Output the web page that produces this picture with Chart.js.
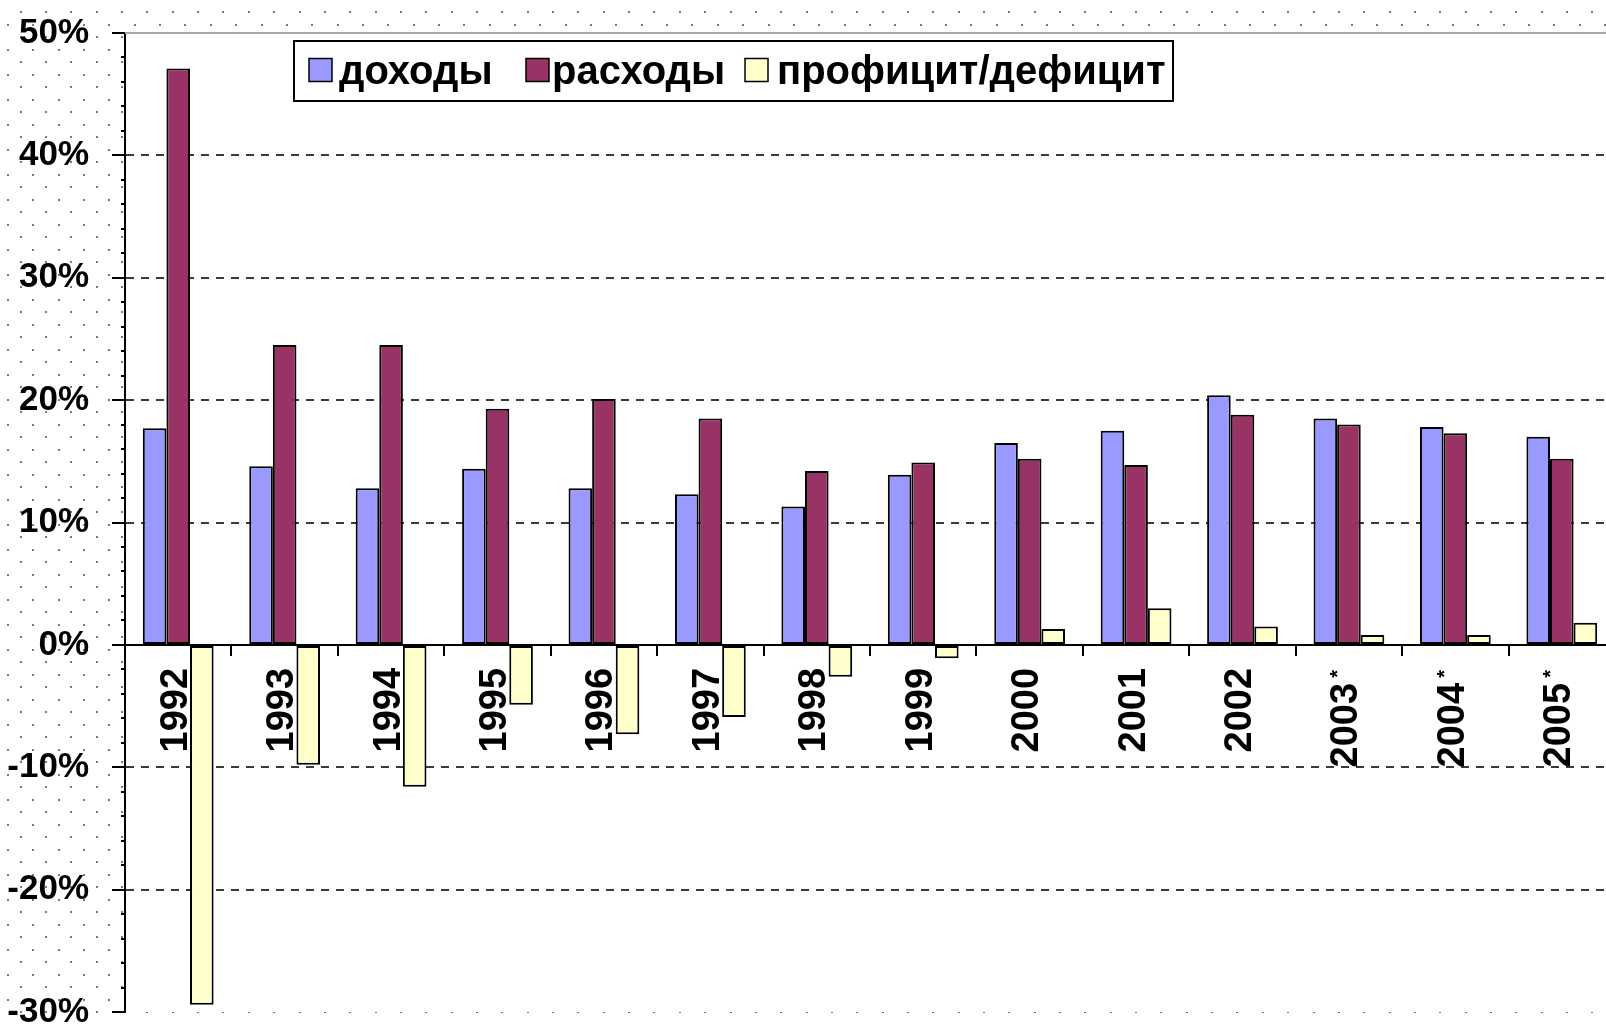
<!DOCTYPE html>
<html><head><meta charset="utf-8">
<script src="https://cdn.jsdelivr.net/npm/chart.js@4/dist/chart.umd.min.js"></script>
<style>
html,body{margin:0;padding:0;overflow:hidden;background:#fff;}
#wrap{width:1630px;height:1040px;position:relative;}
</style></head><body>
<div id="wrap"><canvas id="c"></canvas></div>
<script>
// ---- data ----
const categories = ['1992','1993','1994','1995','1996','1997','1998','1999','2000','2001','2002','2003*','2004*','2005*'];
const revenue  = [17.7, 14.6, 12.8, 14.4, 12.8, 12.3, 11.3, 13.9, 16.5, 17.5, 20.4, 18.5, 17.8, 17.0];
const expenses = [47.1, 24.5, 24.5, 19.3, 20.1, 18.5, 14.2, 14.9, 15.2, 14.7, 18.8, 18.0, 17.3, 15.2];
const balance  = [-29.4, -9.8, -11.6, -4.9, -7.3, -5.9, -2.6, -1.1, 1.3, 3.0, 1.5, 0.8, 0.8, 1.8];
const seriesNames = ['доходы', 'расходы', 'профицит/дефицит'];
const yTickValues = [-30, -20, -10, 0, 10, 20, 30, 40, 50];

const colors = ['#9999FF', '#993366', '#FFFFCC'];
const FONT = '"Liberation Sans", Arial, sans-serif';

const bgPlugin = {
  id: 'bg',
  beforeDraw(chart) {
    const {ctx, width, height, chartArea: a} = chart;
    ctx.save();
    ctx.fillStyle = '#fff';
    ctx.fillRect(0, 0, width, height);
    ctx.fillStyle = '#7a7a7a';
    let row = 0;
    for (let y = 12.3; y < height; y += 12.5, row++) {
      const off = (row % 2 === 0) ? 20.7 : 8.0;
      for (let x = off; x < width; x += 25.35) {
        ctx.fillRect(Math.round(x) - 1, Math.round(y) - 1, 2, 2);
      }
    }
    ctx.fillStyle = '#fff';
    ctx.fillRect(a.left, a.top, a.right - a.left, a.bottom - a.top);
    ctx.restore();
  }
};

const overlayPlugin = {
  id: 'overlay',
  afterDraw(chart) {
    const {ctx, chartArea: a} = chart;
    const xs = chart.scales.x, ys = chart.scales.y;
    ctx.save();
    // top border line (gray)
    ctx.strokeStyle = '#a8a8a8';
    ctx.lineWidth = 2;
    ctx.beginPath();
    ctx.moveTo(a.left, a.top);
    ctx.lineTo(a.right, a.top);
    ctx.stroke();
    // y axis ticks: major and minor
    ctx.strokeStyle = '#000';
    ctx.lineWidth = 2;
    for (let v = ys.min; v <= ys.max; v += 2) {
      const py = Math.round(ys.getPixelForValue(v));
      const major = (v % 10 === 0);
      ctx.beginPath();
      ctx.moveTo(a.left - (major ? 13 : 4), py);
      ctx.lineTo(a.left, py);
      ctx.stroke();
    }
    // x labels, rotated
    const yBase = ys.getPixelForValue(0) + 23;
    categories.forEach((lab, i) => {
      const cx = xs.getPixelForValue(i) - 2;
      const star = lab.endsWith('*');
      const main = star ? lab.slice(0, -1) : lab;
      ctx.save();
      ctx.translate(cx, yBase);
      ctx.rotate(-Math.PI / 2);
      ctx.fillStyle = '#000';
      ctx.textAlign = 'right';
      ctx.textBaseline = 'middle';
      ctx.font = 'bold 38px ' + FONT;
      ctx.fillText(main, star ? -15 : 0, 0);
      if (star) {
        ctx.font = 'bold 20px ' + FONT;
        ctx.fillText('*', -2, -8);
      }
      ctx.restore();
    });
    // legend
    const bx = 294, by = 41, bw = 879, bh = 60;
    ctx.fillStyle = '#fff';
    ctx.fillRect(bx, by, bw, bh);
    ctx.strokeStyle = '#000';
    ctx.lineWidth = 2;
    ctx.strokeRect(bx, by, bw, bh);
    const sqX = [309, 526, 745];
    const txX = [339, 552, 777];
    ctx.font = 'bold 40px ' + FONT;
    ctx.textAlign = 'left';
    ctx.textBaseline = 'alphabetic';
    chart.data.datasets.forEach((ds, i) => {
      ctx.fillStyle = ds.backgroundColor;
      ctx.fillRect(sqX[i], 58.5, 23, 23);
      ctx.lineWidth = 1.5;
      ctx.strokeStyle = '#000';
      ctx.strokeRect(sqX[i], 58.5, 23, 23);
      ctx.fillStyle = '#000';
      ctx.fillText(ds.label, txX[i], 84);
    });
    ctx.restore();
  }
};

new Chart(document.getElementById('c'), {
  type: 'bar',
  data: {
    labels: categories,
    datasets: [
      {label: seriesNames[0], data: revenue,  backgroundColor: colors[0]},
      {label: seriesNames[1], data: expenses, backgroundColor: colors[1]},
      {label: seriesNames[2], data: balance,  backgroundColor: colors[2]}
    ]
  },
  options: {
    responsive: true,
    maintainAspectRatio: false,
    animation: false,
    devicePixelRatio: 1,
    layout: {padding: {top: 33, bottom: 28, left: 0, right: 15}},
    datasets: {bar: {categoryPercentage: 0.665, barPercentage: 1.0, borderColor: '#000', borderWidth: 2, borderSkipped: false}},
    plugins: {legend: {display: false}, tooltip: {enabled: false}},
    scales: {
      x: {
        position: {y: 0},
        offset: true,
        grid: {offset: true, drawOnChartArea: false, drawTicks: true, tickLength: 10, color: '#000', lineWidth: 2},
        border: {display: true, color: '#000', width: 2},
        ticks: {display: false}
      },
      y: {
        min: -30, max: 50,
        afterBuildTicks: s => { s.ticks = yTickValues.map(v => ({value: v})); },
        afterFit: s => { s.width = 125; },
        ticks: {callback: v => v + '%', font: {family: FONT, size: 35, weight: 'bold'}, color: '#000', padding: 0},
        grid: {
          drawTicks: true,
          tickLength: 36,
          tickColor: 'rgba(0,0,0,0)',
          lineWidth: 2,
          color: c => (c.tick && (c.tick.value === 0 || c.tick.value === 50 || c.tick.value === -30)) ? 'rgba(0,0,0,0)' : '#3a3a3a'
        },
        border: {display: true, color: '#000', width: 2, dash: [8, 7]}
      }
    }
  },
  plugins: [bgPlugin, overlayPlugin]
});
</script>
</body></html>
